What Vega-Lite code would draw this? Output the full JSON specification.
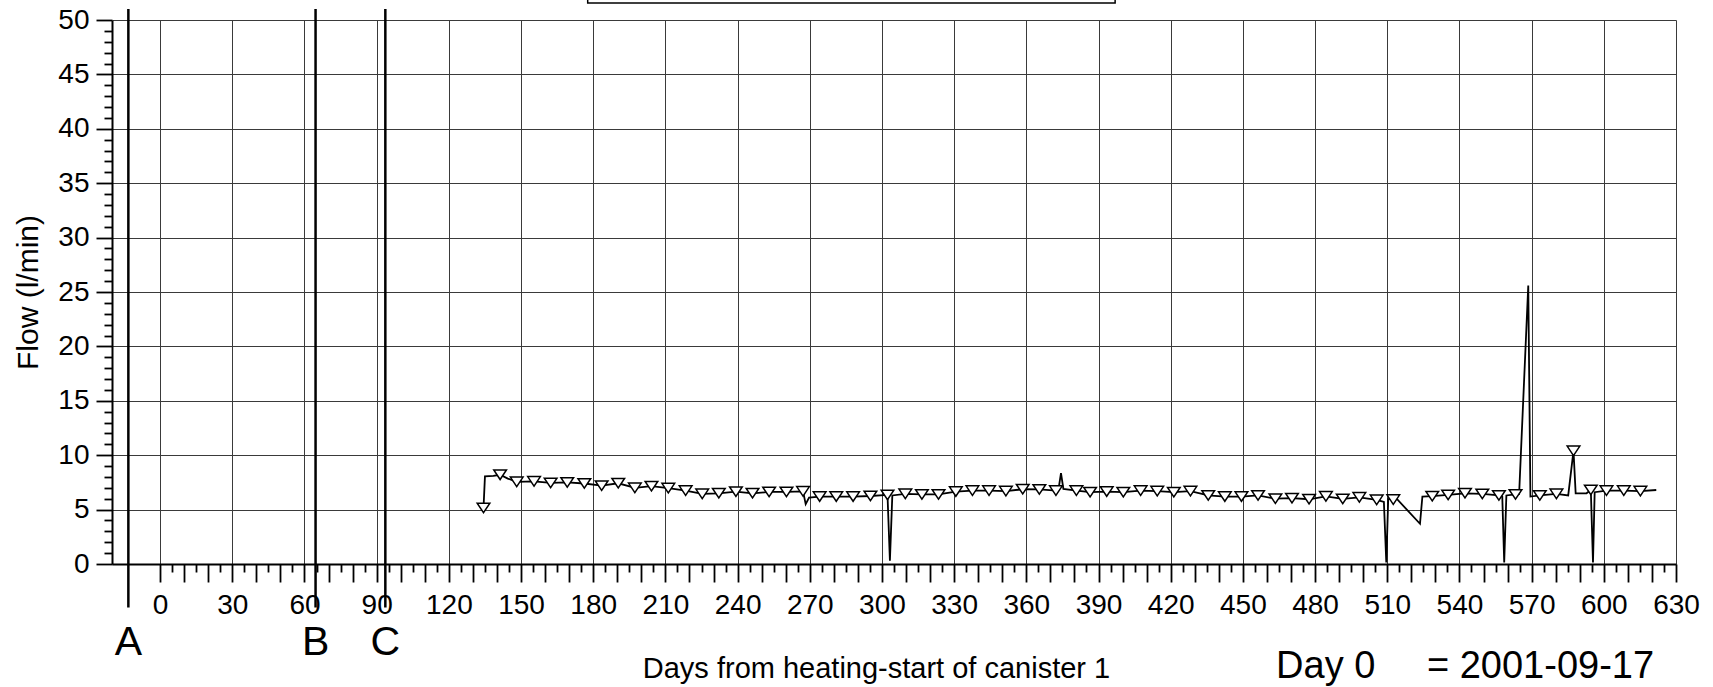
{
  "$schema": "https://vega.github.io/schema/vega-lite/v6.json",
  "width": 1564,
  "height": 544,
  "autosize": {"type": "none"},
  "padding": {"left": 112, "top": 20, "right": 37, "bottom": 123},
  "background": "white",
  "config": {
    "view": {"stroke": null},
    "font": "Liberation Sans",
    "axis": {"labelFont": "Liberation Sans", "titleFont": "Liberation Sans", "labelColor": "black", "titleColor": "black", "tickColor": "black", "domainColor": "black", "titleFontWeight": "normal"}
  },
  "datasets": {
    "flow": [
      {"day":134.4,"flow":5.15},{"day":135.0,"flow":8.05},{"day":138.5,"flow":8.1},{"day":141.3,"flow":8.2},{"day":144.5,"flow":7.85},
      {"day":148.2,"flow":7.55},{"day":155.4,"flow":7.6},{"day":162.3,"flow":7.45},{"day":169.2,"flow":7.5},{"day":176.3,"flow":7.4},
      {"day":183.5,"flow":7.2},{"day":190.4,"flow":7.42},{"day":197.3,"flow":7.0},{"day":204.2,"flow":7.15},{"day":211.2,"flow":6.98},
      {"day":218.4,"flow":6.75},{"day":225.3,"flow":6.45},{"day":232.2,"flow":6.5},{"day":239.3,"flow":6.65},{"day":246.2,"flow":6.5},
      {"day":253.1,"flow":6.62},{"day":260.3,"flow":6.62},{"day":267.2,"flow":6.68},{"day":268.3,"flow":5.5},{"day":269.7,"flow":6.1},
      {"day":274.1,"flow":6.2},{"day":281.0,"flow":6.2},{"day":288.0,"flow":6.2},{"day":295.2,"flow":6.25},{"day":302.3,"flow":6.35},
      {"day":303.3,"flow":0.3},{"day":304.3,"flow":6.3},{"day":309.7,"flow":6.45},{"day":316.6,"flow":6.4},{"day":323.5,"flow":6.4},
      {"day":330.7,"flow":6.66},{"day":337.6,"flow":6.75},{"day":344.5,"flow":6.75},{"day":351.5,"flow":6.7},{"day":358.5,"flow":6.87},
      {"day":365.4,"flow":6.85},{"day":372.3,"flow":6.75},{"day":373.6,"flow":7.2},{"day":374.4,"flow":8.35},{"day":375.4,"flow":6.9},
      {"day":380.8,"flow":6.75},{"day":386.5,"flow":6.6},{"day":393.4,"flow":6.66},{"day":400.3,"flow":6.6},{"day":407.5,"flow":6.75},
      {"day":414.4,"flow":6.7},{"day":421.3,"flow":6.6},{"day":428.2,"flow":6.7},{"day":435.6,"flow":6.3},{"day":442.5,"flow":6.2},
      {"day":449.4,"flow":6.2},{"day":456.3,"flow":6.3},{"day":463.5,"flow":6.0},{"day":470.4,"flow":6.05},{"day":477.5,"flow":5.95},
      {"day":484.5,"flow":6.22},{"day":491.5,"flow":5.98},{"day":498.4,"flow":6.13},{"day":505.6,"flow":5.9},{"day":508.6,"flow":5.7},
      {"day":509.6,"flow":0.15},{"day":510.4,"flow":5.98},{"day":512.5,"flow":5.92},{"day":514.0,"flow":5.98},{"day":523.6,"flow":3.7},
      {"day":524.6,"flow":6.2},{"day":528.7,"flow":6.23},{"day":535.3,"flow":6.35},{"day":542.3,"flow":6.5},{"day":549.5,"flow":6.44},
      {"day":556.4,"flow":6.3},{"day":557.8,"flow":6.2},{"day":558.6,"flow":0.15},{"day":559.5,"flow":6.3},{"day":563.3,"flow":6.4},
      {"day":564.8,"flow":6.44},{"day":568.6,"flow":25.6},{"day":569.5,"flow":6.2},{"day":573.4,"flow":6.3},{"day":580.3,"flow":6.45},
      {"day":585.2,"flow":6.3},{"day":587.4,"flow":10.4},{"day":588.3,"flow":6.5},{"day":592.8,"flow":6.5},{"day":594.6,"flow":6.8},
      {"day":595.5,"flow":0.15},{"day":596.2,"flow":6.6},{"day":601.1,"flow":6.75},{"day":608.3,"flow":6.75},{"day":615.2,"flow":6.7},
      {"day":621.8,"flow":6.8}
    ],
    "markers": [
      {"day":134.4,"flow":5.15},{"day":141.3,"flow":8.2},{"day":148.2,"flow":7.55},{"day":155.4,"flow":7.6},{"day":162.3,"flow":7.45},
      {"day":169.2,"flow":7.5},{"day":176.3,"flow":7.4},{"day":183.5,"flow":7.2},{"day":190.4,"flow":7.42},{"day":197.3,"flow":7.0},
      {"day":204.2,"flow":7.15},{"day":211.2,"flow":6.98},{"day":218.4,"flow":6.75},{"day":225.3,"flow":6.45},{"day":232.2,"flow":6.5},
      {"day":239.3,"flow":6.65},{"day":246.2,"flow":6.5},{"day":253.1,"flow":6.62},{"day":260.3,"flow":6.62},{"day":267.2,"flow":6.68},
      {"day":274.1,"flow":6.2},{"day":281.0,"flow":6.2},{"day":288.0,"flow":6.2},{"day":295.2,"flow":6.25},{"day":302.3,"flow":6.35},
      {"day":309.7,"flow":6.45},{"day":316.6,"flow":6.4},{"day":323.5,"flow":6.4},{"day":330.7,"flow":6.66},{"day":337.6,"flow":6.75},
      {"day":344.5,"flow":6.75},{"day":351.5,"flow":6.7},{"day":358.5,"flow":6.87},{"day":365.4,"flow":6.85},{"day":372.3,"flow":6.75},
      {"day":380.8,"flow":6.75},{"day":386.5,"flow":6.6},{"day":393.4,"flow":6.66},{"day":400.3,"flow":6.6},{"day":407.5,"flow":6.75},
      {"day":414.4,"flow":6.7},{"day":421.3,"flow":6.6},{"day":428.2,"flow":6.7},{"day":435.6,"flow":6.3},{"day":442.5,"flow":6.2},
      {"day":449.4,"flow":6.2},{"day":456.3,"flow":6.3},{"day":463.5,"flow":6.0},{"day":470.4,"flow":6.05},{"day":477.5,"flow":5.95},
      {"day":484.5,"flow":6.22},{"day":491.5,"flow":5.98},{"day":498.4,"flow":6.13},{"day":505.6,"flow":5.9},{"day":512.5,"flow":5.92},
      {"day":528.7,"flow":6.23},{"day":535.3,"flow":6.35},{"day":542.3,"flow":6.5},{"day":549.5,"flow":6.44},{"day":556.4,"flow":6.3},
      {"day":563.3,"flow":6.4},{"day":573.4,"flow":6.3},{"day":580.3,"flow":6.45},{"day":587.4,"flow":10.4},{"day":594.6,"flow":6.8},
      {"day":601.1,"flow":6.75},{"day":608.3,"flow":6.75},{"day":615.2,"flow":6.7}
    ],
    "events": [
      {"event":"A","day":-13.2},{"event":"B","day":64.6},{"event":"C","day":93.6}
    ]
  },
  "resolve": {"axis": {"x": "independent", "y": "independent"}},
  "layer": [
    {
      "data": {"name": "flow"},
      "mark": {"type": "line", "color": "black", "strokeWidth": 1.8},
      "encoding": {
        "x": {"field": "day", "type": "quantitative",
          "scale": {"domain": [-20, 630], "nice": false, "zero": false},
          "axis": {"orient": "bottom", "values": [0,30,60,90,120,150,180,210,240,270,300,330,360,390,420,450,480,510,540,570,600,630],
            "grid": true, "gridColor": "#3a3a3a", "gridWidth": 1, "gridOpacity": 1,
            "tickSize": 18, "tickWidth": 1.8, "domainWidth": 2,
            "labelFontSize": 28, "labelPadding": 9, "labelFlush": false, "labelOverlap": false, "labelBound": false,
            "title": "Days from heating-start of canister 1", "titleFontSize": 29,
            "titleX": 764, "titleY": 113, "titleAlign": "center", "titleBaseline": "alphabetic", "titleAnchor": null}},
        "y": {"field": "flow", "type": "quantitative",
          "scale": {"domain": [0, 50], "nice": false, "zero": false},
          "axis": {"orient": "left", "values": [0,5,10,15,20,25,30,35,40,45,50],
            "grid": true, "gridColor": "#3a3a3a", "gridWidth": 1, "gridOpacity": 1,
            "tickSize": 16, "tickWidth": 1.8, "domainWidth": 2,
            "labelFontSize": 28, "labelPadding": 7, "labelOverlap": false, "labelBound": false,
            "title": "Flow (l/min)", "titleFontSize": 30, "titlePadding": 14}}
      }
    },
    {
      "data": {"name": "markers"},
      "mark": {"type": "point", "shape": "M-1,-0.75L1,-0.75L0,0.75Z", "size": 160, "filled": true, "fill": "white", "stroke": "black", "strokeWidth": 1.5, "opacity": 1},
      "encoding": {
        "x": {"field": "day", "type": "quantitative",
          "scale": {"domain": [-20, 630], "nice": false, "zero": false},
          "axis": {"orient": "bottom", "values": [10,20,40,50,70,80,100,110,130,140,160,170,190,200,220,230,250,260,280,290,310,320,340,350,370,380,400,410,430,440,460,470,490,500,520,530,550,560,580,590,610,620],
            "grid": false, "domain": false, "labels": false, "tickSize": 18, "tickWidth": 1.8, "title": null}},
        "y": {"field": "flow", "type": "quantitative",
          "scale": {"domain": [0, 50], "nice": false, "zero": false},
          "axis": {"orient": "left", "values": [1,2,3,4,6,7,8,9,11,12,13,14,16,17,18,19,21,22,23,24,26,27,28,29,31,32,33,34,36,37,38,39,41,42,43,44,46,47,48,49],
            "grid": false, "domain": false, "labels": false, "tickSize": 8, "tickWidth": 1.8, "title": null}}
      }
    },
    {
      "data": {"name": "events"},
      "mark": {"type": "rule", "color": "black", "strokeWidth": 2.5},
      "encoding": {
        "x": {"field": "day", "type": "quantitative",
          "scale": {"domain": [-20, 630], "nice": false, "zero": false},
          "axis": {"orient": "bottom", "values": [5,15,25,35,45,55,65,75,85,95,105,115,125,135,145,155,165,175,185,195,205,215,225,235,245,255,265,275,285,295,305,315,325,335,345,355,365,375,385,395,405,415,425,435,445,455,465,475,485,495,505,515,525,535,545,555,565,575,585,595,605,615,625],
            "grid": false, "domain": false, "labels": false, "tickSize": 8, "tickWidth": 1.8, "title": null}},
        "y": {"datum": 51.0, "type": "quantitative", "scale": {"domain": [0, 50], "nice": false, "zero": false}, "axis": null},
        "y2": {"datum": -4.0}
      }
    },
    {
      "data": {"name": "events"},
      "mark": {"type": "text", "fontSize": 41, "color": "black", "align": "center", "baseline": "alphabetic"},
      "encoding": {
        "x": {"field": "day", "type": "quantitative", "axis": null},
        "y": {"datum": -8.4, "type": "quantitative", "axis": null},
        "text": {"field": "event"}
      }
    },
    {
      "data": {"values": [{"note": "title box"}]},
      "mark": {"type": "rect", "fill": "white", "stroke": "black", "strokeWidth": 1.5},
      "encoding": {
        "x": {"datum": 177.7, "type": "quantitative", "axis": null},
        "x2": {"datum": 396.9},
        "y": {"datum": 51.56, "type": "quantitative", "axis": null},
        "y2": {"datum": 60}
      }
    },
    {
      "data": {"values": [{"note": "day zero"}]},
      "mark": {"type": "text", "fontSize": 38, "color": "black", "align": "left", "baseline": "alphabetic"},
      "encoding": {
        "x": {"datum": 463.8, "type": "quantitative", "axis": null},
        "y": {"datum": -10.48, "type": "quantitative", "axis": null},
        "text": {"value": "Day 0"}
      }
    },
    {
      "data": {"values": [{"note": "day zero date"}]},
      "mark": {"type": "text", "fontSize": 38, "color": "black", "align": "left", "baseline": "alphabetic"},
      "encoding": {
        "x": {"datum": 526.5, "type": "quantitative", "axis": null},
        "y": {"datum": -10.48, "type": "quantitative", "axis": null},
        "text": {"value": "= 2001-09-17"}
      }
    }
  ]
}
